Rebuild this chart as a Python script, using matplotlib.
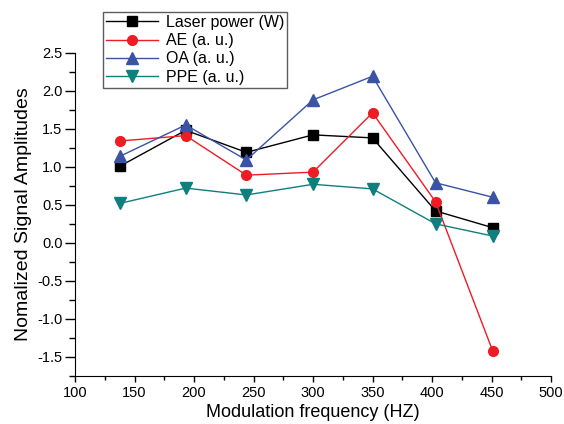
import matplotlib
matplotlib.use("Agg")
import matplotlib.pyplot as plt
from matplotlib.ticker import MultipleLocator

plt.rcParams['font.family'] = ['Liberation Sans', 'DejaVu Sans']

freq = [138, 193, 244, 300, 350, 403, 451]
laser = [1.01, 1.48, 1.19, 1.42, 1.38, 0.42, 0.20]
ae = [1.34, 1.41, 0.89, 0.93, 1.71, 0.54, -1.42]
oa = [1.14, 1.55, 1.09, 1.88, 2.19, 0.79, 0.60]
ppe = [0.52, 0.72, 0.63, 0.77, 0.71, 0.25, 0.09]
labels = ["Laser power (W)", "AE (a. u.)", "OA (a. u.)", "PPE (a. u.)"]

fig = plt.figure(figsize=(5.64, 4.24), dpi=100)
left, right, bottom, top = 75 / 564, 551 / 564, 1 - 376 / 424, 1 - 52.7 / 424
ax = fig.add_axes([left, bottom, right - left, top - bottom])

ax.plot(freq, laser, color='black', marker='s', ms=6.5, lw=1.0, label=labels[0])
ax.plot(freq, ae, color='#ee1c24', marker='o', ms=7, lw=1.0, label=labels[1])
ax.plot(freq, oa, color='#3a53a4', marker='^', ms=8, lw=1.0, label=labels[2])
ax.plot(freq, ppe, color='#0e7f7c', marker='v', ms=8, lw=1.0, label=labels[3])

ax.set_xlim(100, 500)
ax.set_ylim(-1.75, 2.5)
ax.xaxis.set_major_locator(MultipleLocator(50))
ax.xaxis.set_minor_locator(MultipleLocator(25))
ax.yaxis.set_major_locator(MultipleLocator(0.5))
ax.yaxis.set_minor_locator(MultipleLocator(0.25))
ax.yaxis.set_major_formatter(matplotlib.ticker.FormatStrFormatter('%.1f'))
ax.tick_params(which='major', direction='out', width=1, labelsize=10.5)
ax.tick_params(axis='y', which='major', length=7, pad=2)
ax.tick_params(axis='y', which='minor', direction='out', length=4, width=1)
ax.tick_params(axis='x', which='major', length=4, pad=3)
ax.tick_params(axis='x', which='minor', direction='out', length=3, width=1)
ax.spines['top'].set_visible(False)
ax.spines['right'].set_visible(False)
ax.set_xlabel("Modulation frequency (HZ)", fontsize=13, labelpad=3)
ax.set_ylabel("Nomalized Signal Amplitudes", fontsize=14, labelpad=4)

leg = fig.legend(loc='upper left', bbox_to_anchor=(0.183, 0.972), fontsize=11.5,
                 frameon=True, fancybox=False, edgecolor='#333333',
                 handlelength=3.2, borderaxespad=0, labelspacing=0.2,
                 borderpad=0.2, handletextpad=0.5)
leg.get_frame().set_linewidth(1.0)
leg.get_frame().set_width(192)

fig.savefig("out.png", dpi=100)
